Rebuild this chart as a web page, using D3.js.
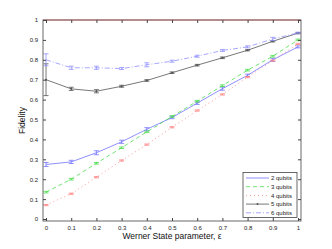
<!DOCTYPE html>
<html>
<head>
<meta charset="utf-8">
<script src="https://cdn.jsdelivr.net/npm/d3@7"></script>
<style>
  body { margin: 0; background: #fff; }
  text { font-family: "Liberation Sans", Arial, sans-serif; }
</style>
</head>
<body>
<script>
var width = 332, height = 249;
var margin = { left: 43, right: 31, top: 20, bottom: 28 };

// Werner parameter values
var eps = [0, 0.1, 0.2, 0.3, 0.4, 0.5, 0.6, 0.7, 0.8, 0.9, 1.0];
var xTicks = [0, 0.1, 0.2, 0.3, 0.4, 0.5, 0.6, 0.7, 0.8, 0.9, 1];
var yTicks = [0, 0.1, 0.2, 0.3, 0.4, 0.5, 0.6, 0.7, 0.8, 0.9, 1];

// fidelity per qubit count
var q2 = [0.274, 0.287, 0.333, 0.388, 0.451, 0.51, 0.582, 0.655, 0.722, 0.80, 0.865];
var q3 = [0.135, 0.20, 0.28, 0.358, 0.438, 0.515, 0.592, 0.67, 0.748, 0.818, 0.90];
var q4 = [0.07, 0.127, 0.21, 0.294, 0.374, 0.461, 0.545, 0.626, 0.713, 0.796, 0.88];
var q5 = [0.70, 0.654, 0.642, 0.667, 0.696, 0.735, 0.773, 0.81, 0.848, 0.893, 0.934];
var q6 = [0.80, 0.76, 0.76, 0.756, 0.775, 0.793, 0.818, 0.847, 0.865, 0.905, 0.935];

// error bar half-widths
var e2 = [0.01, 0.008, 0.01, 0.008, 0.008, 0.006, 0.006, 0.008, 0.006, 0.008, 0.005];
var e3 = [0.004, 0.004, 0.004, 0.004, 0.004, 0.004, 0.004, 0.004, 0.004, 0.004, 0.004];
var e4 = [0.003, 0.003, 0.003, 0.003, 0.003, 0.003, 0.003, 0.003, 0.003, 0.003, 0.003];
var e5 = [0.08, 0.008, 0.008, 0.005, 0.004, 0.004, 0.004, 0.004, 0.003, 0.003, 0.003];
var e6 = [0.03, 0.008, 0.008, 0.005, 0.01, 0.005, 0.005, 0.005, 0.005, 0.008, 0.004];

var names = ["2 qubits", "3 qubits", "4 qubits", "5 qubits", "6 qubits"];
var colors = ["#7373ff", "#4ddd4d", "#ff8080", "#555555", "#9090ff"];
var dashes = [null, "4,3", "1,3", null, "5,2,1,2"];

var series = [q2, q3, q4, q5, q6].map(function (v, i) {
    var errs = [e2, e3, e4, e5, e6][i];
    return {
        name: names[i], color: colors[i], dash: dashes[i],
        pts: eps.map(function (x, j) { return { x: x, y: v[j], e: errs[j] }; })
    };
});

var svg = d3.select("body").append("svg")
    .attr("width", width).attr("height", height);

var x = d3.scaleLinear().domain([-0.012, 1.012]).range([margin.left, width - margin.right]);
var y = d3.scaleLinear().domain([-0.01, 1]).range([height - margin.bottom, margin.top]);

var x0 = x.range()[0], x1 = x.range()[1];
var y0 = y.range()[0], y1 = y.range()[1];

// reference line at fidelity 1
svg.append("line")
    .attr("x1", x0).attr("x2", x1)
    .attr("y1", y(1)).attr("y2", y(1))
    .style("stroke", "#ff8080").style("stroke-width", 1.2);

var line = d3.line().x(function (d) { return x(d.x); }).y(function (d) { return y(d.y); });

series.forEach(function (s) {
    var g = svg.append("g");
    g.append("path")
        .datum(s.pts)
        .attr("d", line)
        .style("fill", "none")
        .style("stroke", s.color)
        .style("stroke-width", 0.8)
        .style("stroke-dasharray", s.dash);
    var eb = g.selectAll(".eb").data(s.pts).enter().append("g");
    eb.append("line")
        .attr("x1", function (d) { return x(d.x); }).attr("x2", function (d) { return x(d.x); })
        .attr("y1", function (d) { return y(d.y - d.e); }).attr("y2", function (d) { return y(d.y + d.e); })
        .style("stroke", s.color).style("stroke-width", 0.8);
    [-1, 1].forEach(function (sg) {
        eb.append("line")
            .attr("x1", function (d) { return x(d.x) - 2.5; }).attr("x2", function (d) { return x(d.x) + 2.5; })
            .attr("y1", function (d) { return y(d.y + sg * d.e); }).attr("y2", function (d) { return y(d.y + sg * d.e); })
            .style("stroke", s.color).style("stroke-width", 0.8);
    });
    if (s.name === "5 qubits") {
        g.selectAll(".dot").data(s.pts).enter().append("circle")
            .attr("cx", function (d) { return x(d.x); })
            .attr("cy", function (d) { return y(d.y); })
            .attr("r", 1).style("fill", s.color);
    }
});

// axes box with inward ticks
var axisColor = "#444";
var fs = "6px";
svg.append("rect")
    .attr("x", x0).attr("y", y1).attr("width", x1 - x0).attr("height", y0 - y1)
    .style("fill", "none").style("stroke", axisColor).style("stroke-width", 0.8);

svg.append("g").attr("transform", "translate(0," + y0 + ")")
    .call(d3.axisBottom(x).tickValues(xTicks).tickSize(-3).tickPadding(5).tickFormat(d3.format("~g")))
    .call(function (g) { g.select(".domain").remove(); });
svg.append("g").attr("transform", "translate(0," + y1 + ")")
    .call(d3.axisTop(x).tickValues(xTicks).tickSize(-3).tickFormat(""))
    .call(function (g) { g.select(".domain").remove(); });
svg.append("g").attr("transform", "translate(" + x0 + ",0)")
    .call(d3.axisLeft(y).tickValues(yTicks).tickSize(-3).tickPadding(5).tickFormat(d3.format("~g")))
    .call(function (g) { g.select(".domain").remove(); });
svg.append("g").attr("transform", "translate(" + x1 + ",0)")
    .call(d3.axisRight(y).tickValues(yTicks).tickSize(-3).tickFormat(""))
    .call(function (g) { g.select(".domain").remove(); });

svg.selectAll(".tick line").style("stroke", axisColor);
svg.selectAll(".tick text").style("font-size", fs).style("fill", "#222")
    .style("font-family", "Liberation Sans, Arial, sans-serif");

// axis labels
svg.append("text")
    .attr("x", (x0 + x1) / 2).attr("y", 239)
    .attr("text-anchor", "middle")
    .style("font-size", "8.5px").style("fill", "#111")
    .text("Werner State parameter, ε");
svg.append("text")
    .attr("transform", "translate(25," + ((y0 + y1) / 2) + ") rotate(-90)")
    .attr("text-anchor", "middle")
    .style("font-size", "8.5px").style("fill", "#111")
    .text("Fidelity");

// legend
var lg = svg.append("g").attr("transform", "translate(243,172.5)");
lg.append("rect").attr("width", 54).attr("height", 45)
    .style("fill", "#fff").style("stroke", axisColor).style("stroke-width", 0.8);
series.forEach(function (s, i) {
    var ly = 5.5 + i * 8.7;
    lg.append("line").attr("x1", 3).attr("x2", 26).attr("y1", ly).attr("y2", ly)
        .style("stroke", s.color).style("stroke-width", 0.8)
        .style("stroke-dasharray", s.dash);
    if (s.name === "5 qubits") {
        lg.append("circle").attr("cx", 14.5).attr("cy", ly).attr("r", 1).style("fill", s.color);
    }
    lg.append("text").attr("x", 28).attr("y", ly + 2.2)
        .style("font-size", "6px").style("fill", "#222")
        .text(s.name);
});
</script>
</body>
</html>
